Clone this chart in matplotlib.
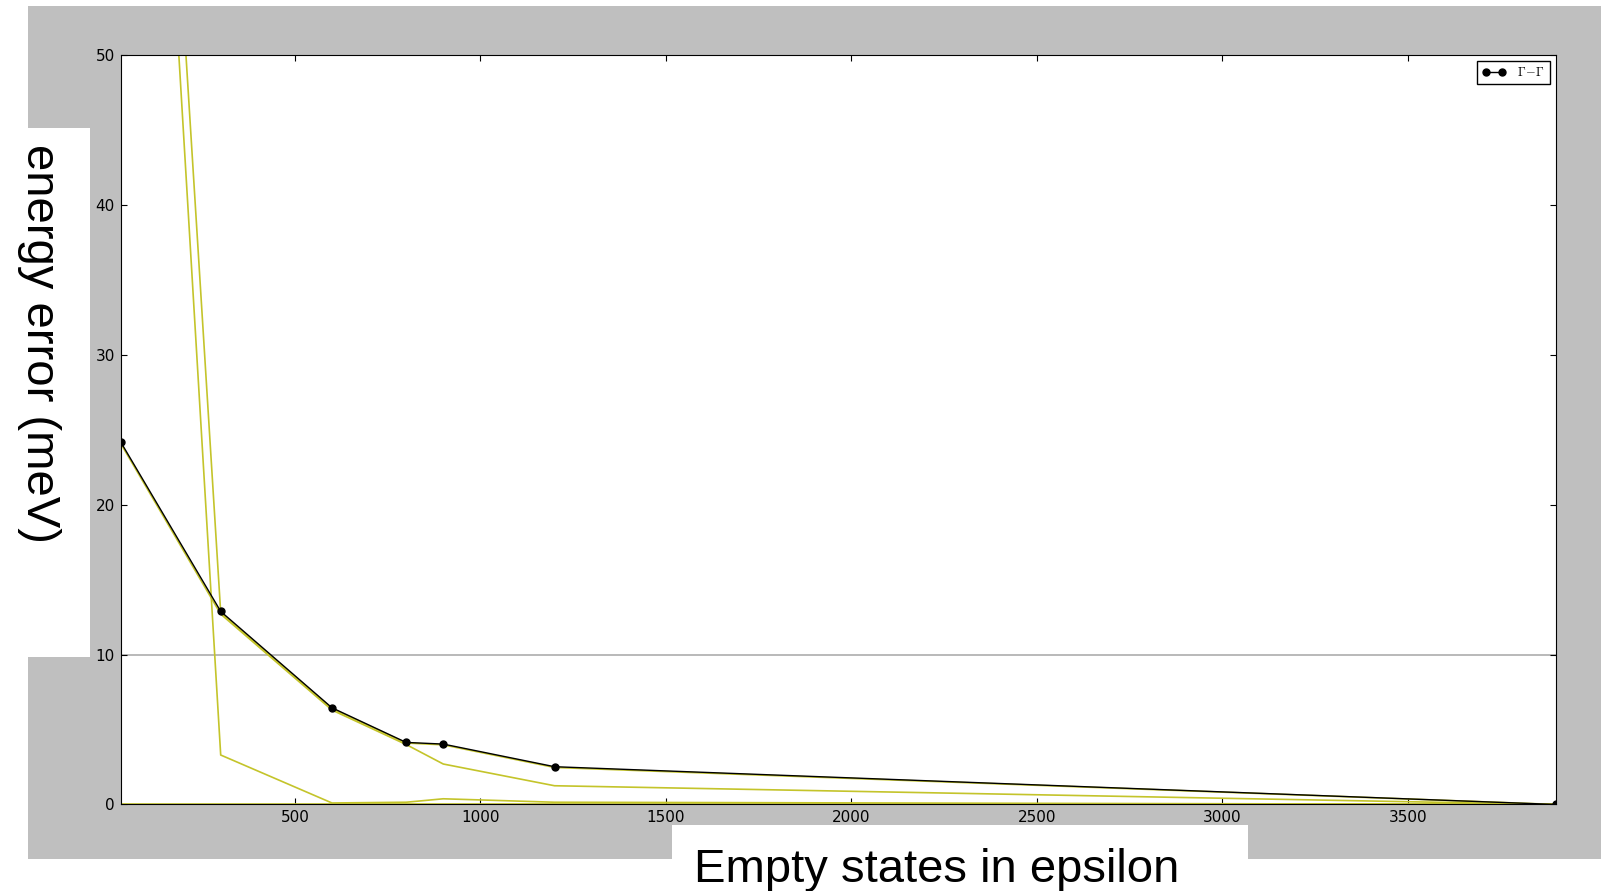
import matplotlib
matplotlib.use("Agg")
import matplotlib.pyplot as plt
from matplotlib.patches import Rectangle

# empty states in epsilon
n_empty = [30, 300, 600, 800, 900, 1200, 3900]

# Gamma-Gamma energy error (meV)
err_gg = [24.2, 12.88, 6.45, 4.14, 4.03, 2.52, 0.0]

# other transitions (yellow)
err_a = [24.1, 12.7, 6.3, 4.0, 2.7, 1.25, 0.0]
err_b = [115.0, 3.3, 0.1, 0.15, 0.38, 0.15, 0.0]
err_c = [120.0, 12.8, 6.4, 4.1, 3.98, 2.47, 0.0]
err_d = [0.0, 0.0, 0.0, 0.0, 0.0, 0.0, 0.0]

plt.rcParams['mathtext.fontset'] = 'cm'

fig = plt.figure(figsize=(16.01, 8.91), dpi=100, facecolor='white')

# grey canvas of the old figure and white patches over it
fig.patches.append(Rectangle((0.0175, 0.0359), 0.9825, 0.9574, transform=fig.transFigure,
                             facecolor='#bfbfbf', edgecolor='none', zorder=0))
fig.patches.append(Rectangle((0.0, 0.2626), 0.0562, 0.5937, transform=fig.transFigure,
                             facecolor='white', edgecolor='none', zorder=1))
fig.patches.append(Rectangle((0.4197, 0.0), 0.3598, 0.0741, transform=fig.transFigure,
                             facecolor='white', edgecolor='none', zorder=1))

ax = fig.add_axes([0.0753, 0.0971, 0.8966, 0.8412])
ax.set_zorder(2)

ax.axhline(10, color='0.7', linewidth=1.3, zorder=1)

for ys in [err_d, err_b, err_a, err_c]:
    ax.plot(n_empty, ys, color='#c4c42a', linewidth=1.2, zorder=2)

ax.plot(n_empty, err_gg, color='black', linewidth=1.0, marker='o', markersize=5,
        label=r'$\Gamma\!-\!\Gamma$', zorder=3)

ax.set_xlim(min(n_empty), max(n_empty))
ax.set_ylim(0, 50)
ax.set_xticks([500, 1000, 1500, 2000, 2500, 3000, 3500])
ax.set_yticks([0, 10, 20, 30, 40, 50])
ax.tick_params(direction='in', top=True, right=True, length=4, labelsize=11, pad=4)

leg = ax.legend(loc='upper right', numpoints=2, fontsize=9, fancybox=False,
                framealpha=1, borderaxespad=0.5, handlelength=1.9, handletextpad=0.9)
leg.get_frame().set_edgecolor('black')
leg.get_frame().set_linewidth(1.0)

fig.text(0.0243, 0.614, 'energy error (meV)', rotation=270, fontsize=34,
         family='Liberation Sans', ha='center', va='center')
fig.text(0.585, 0.0234, 'Empty states in epsilon', fontsize=34,
         family='Liberation Sans', ha='center', va='center')

fig.savefig('out.png', dpi=100, facecolor='white')
